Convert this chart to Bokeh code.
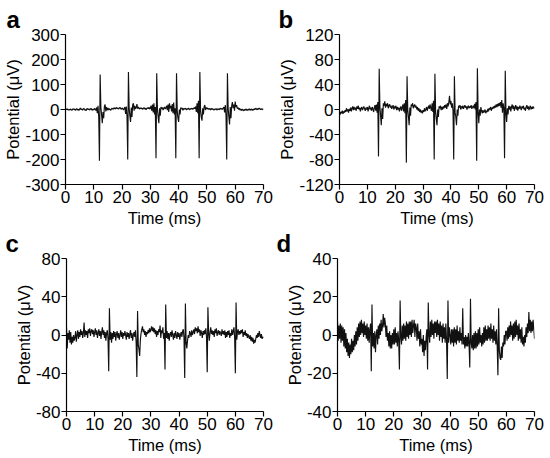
import numpy as np
from bokeh.plotting import figure
from bokeh.layouts import column, row
from bokeh.models import Range1d, FixedTicker
from bokeh.embed import file_html
from bokeh.resources import INLINE

DT = 0.25  # ms between samples

trace_a = [
    2, -1, 3, 0,   -2, 1, -3, 2,   0, -4, 1, 3,   -1, 2, -3, 0,   4, -2, 1, -4,
    2, 6, -1, 3,   -3, 1, 5, -2,   0, -5, 2, 4,   -1, 3, -2, 1,   5, 0, -3, 2,
    -2, 4, 1, -4,  8, -15, 15, -30,  -205, 140, 10, -20,  -55, -10, -35, 12,  20, -8, 10, -3,
    6, -2, 3, 0,   -3, 2, 5, 1,   4, 7, 2, 5,   8, 3, 6, 2,   5, 9, 4, 1,
    6, 3, -2, 4,   10, -18, 12, -28,  -200, 150, 5, -25,  -50, 8, -30, 18,  25, -5, 15, 2,
    8, 22, 3, 10,  5, 2, 7, 3,   6, 1, 4, 8,   2, 5, -1, 4,   7, 3, 9, 2,
    5, 15, -5, 20,  -12, 25, -20, 10,  -195, 145, 0, -30,  -55, 5, -25, 10,  3, 8, -2, 5,
    10, 2, 6, 15,  -3, 20, -10, 25,  5, 15, -8, 22,  -15, 28, -20, 5,  -195, 145, -5, -35,
    -50, 0, -20, 8,  2, 6, -3, 4,   1, 5, 3, -2,   4, 0, 6, 2,   -1, 3, 5, 1,
    4, 2, 8, 3,   12, -10, 25, -15,  35, -195, 150, -5,  -30, -45, 5, -20,  10, 18, -2, 8,
    3, 6, 0, 4,   2, -2, 5, 0,   3, 1, -3, 2,   0, 4, -2, 1,   3, -1, 2, 5,
    1, 4, 0, 6,   10, -12, 18, -25,  -200, 145, 5, -30,  -60, 10, -35, 15,  30, 5, 20, -5,
    32, 10, 18, 3,  8, 0, 5, -3,   2, -4, 1, -2,   -5, 0, -3, 2,   -1, -4, 1, -2,
    3, -3, 0, 2,   -4, 1, -2, 3,   0, 5, 2, -1,   4, 1, 6, 2,   0, 3, -1, 2,
    1,
]

trace_b = [
    -3, -8, -4, -6,  -2, -7, -3, -5,  -1, -4, 2, -3,  0, -5, 1, -2,  3, -3, 2, 5,
    -1, 4, 0, 3,   -2, 5, 1, 6,   0, 3, -3, 2,   4, -1, 2, 5,   1, -2, 3, 0,
    4, -3, 2, 6,   0, 3, -2, 4,   1, -4, 3, 7,   -2, 8, -5, 12,  -75, 65, 5, -10,
    -25, 2, -15, 10,  6, 13, 3, 9,  5, 10, 2, 7,  8, 3, 6, 1,   4, 7, 0, 5,
    2, 6, -1, 4,   0, 3, -3, 2,   5, -2, 3, 8,   -3, 10, -6, 15,  -85, 53, 0, -12,
    -25, 3, -10, 8,  5, 10, 2, 6,  8, 3, 6, 0,   4, -2, 2, -4,   0, -5, -2, -6,
    -1, -4, 2, -3,  0, 4, -2, 3,  6, 1, 8, 3,   -2, 10, -4, 14,  -80, 57, -3, -15,
    -25, 0, -12, 5,  2, 6, -1, 4,  0, 5, 2, 7,   3, 8, 1, 10,   5, 12, 22, 8,
    14, 3, 10, -2,  -80, 53, -5, -12,  -25, 0, -10, 6,  3, 7, 0, 5,  2, 6, 1, 4,
    7, 3, 5, 0,    4, 6, 2, 5,   3, 7, 1, 4,   6, 2, 9, 0,   12, -82, 66, -3,
    -22, 0, -10, 4,  -2, -6, -1, -5,  -3, 0, -6, -2,  -4, 1, -3, 2,  0, 4, -2, 3,
    1, 5, 2, 6,    3, 8, 4, 9,   5, 10, 6, 12,  3, 15, -5, 10,  2, -78, 62, -5,
    -20, 2, -8, 6,  0, 5, -3, 4,  8, 1, 6, -2,   3, 7, 0, 5,   -2, 4, 1, 6,
    3, -1, 5, 2,   6, 0, 3, -2,   4, 7, 1, 5,   -1, 3, 6, 0,   4, 1, 5, 2,
    3,
]

trace_c = [
    8, -14, 2, -5,  5, -8, 3, -10,  -2, -8, 0, -6,  -3, 4, -7, 0,  5, -4, 3, -2,
    6, 0, 4, -3,   2, 13, -2, 5,  0, 4, -3, 6,   2, 7, -1, 4,   6, 1, 5, -2,
    3, 7, 0, 5,   -3, 2, 6, -1,  4, -4, 3, 8,   0, 5, -3, 3,   -6, 2, 5, -4,
    -38, 28, -5, 3,  -8, 2, -4, 4,  -2, 3, -6, 1,  4, -3, 2, -5,  0, 5, -2, 3,
    -4, 2, -1, 4,  0, -5, 3, -2,  2, -4, 1, 5,   -3, 2, -6, 0,  3, -2, 5, -8,
    -44, 25, -10, -15,  -22, -5, 2, 6,  9, 3, 6, 0,  4, -2, 3, 1,  5, 2, 7, 3,
    6, 9, 4, 8,    3, 7, 1, 5,   -2, 4, 0, 6,   3, 10, -3, 5,  2, 8, -4, 2,
    -36, 32, -3, 4,  -4, 2, -6, 1,  3, -2, 5, 0,  -5, 2, -3, 4,  0, -4, 3, -2,
    2, -5, 0, 3,   -2, 4, 6, -3,  -45, 33, -8, -14,  -6, 0, -3, 4,  2, -2, 5, 0,
    3, 6, 1, 8,    4, 7, 2, 9,   3, 6, -1, 5,   2, -3, 4, 0,   5, 1, 7, -2,
    -39, 29, 2, -6,  3, 8, 1, 5,  0, 4, -2, 6,   2, 7, -1, 3,   5, 0, 4, 2,
    -1, 6, 1, 4,   0, 5, -3, 3,   -2, 4, 0, 5,  -3, 2, -1, 6,   0, 4, 8, -3,
    -40, 34, -5, 3,  6, 0, 4, 1,  5, 2, 6, -2,   3, 0, 5, -1,   2, -3, 1, -2,
    -4, 0, -6, -2,  -7, -3, -9, -5,  -8, -4, 0, -3,  2, -2, 4, 0,  -3, 1, -4, -2,
    -3,
]

trace_d = [
    7, -3, 5, -2,   6, -4, 5, -3,   4, -6, 3, -7,   1, -9, -2, -11,  -4, -12, -5, -10,
    -2, -9, -3, -8,  0, -6, 2, -5,   4, -3, 6, -1,   7, 0, 8, 1,    6, -1, 7, 0,
    5, -2, 6, -3,   4, -4, 3, 6,    -19, 16, -6, 1,  -7, 2, -9, 0,  3, -5, 5, -2,
    6, 0, 8, 2,     5, 11, 4, 9,    6, -1, 5, -3,   1, -6, 2, -7,   0, -7, 1, -5,
    3, -5, 4, -4,   1, -6, 2, -3,   -18, 18, -1, -5,  5, -3, 6, -2,  5, -3, 7, -1,
    6, -2, 7, 0,    7, -1, 8, 1,    5, 8, -1, 6,    4, -3, 6, -2,   2, -6, 3, -5,
    -2, -9, 0, -11,  -3, -8, -1, 3,  -18, 17, 0, -4,  7, -1, 8, 0,  6, -2, 7, 1,
    7, -1, 8, 0,    6, -3, 7, -1,   5, -4, 6, -2,   4, -4, 6, -3,   -23, 18, -4, 4,
    0, -5, 3, -4,   3, -6, 4, -4,   3, -5, 5, -3,   2, -4, 4, -3,   1, -5, 14, -5,
    -1, -7, 0, -6,  -1, -6, 1, -5,  -17, 19, -4, -7,  0, -8, 1, -7,  2, -7, 1, -6,
    3, -5, 4, -4,   0, -6, 1, -5,   4, -4, 5, -3,   3, -3, 5, -2,   4, -3, 6, -2,
    3, -4, 5, -3,   2, -5, 3, -6,   -21, 14, -8, -12,  -13, -6, -12, -4,  -6, 0, -5, 2,
    2, -3, 4, -2,   5, -1, 7, 0,    5, -3, 6, -2,   7, -1, 8, 0,    5, -3, 6, -2,
    3, -4, 4, -5,   -1, -6, 0, -4,  4, -1, 6, 1,    12, 2, 8, 1,    7, 2, 8, 3,
    -2,
]

x_ticks = [0, 10, 20, 30, 40, 50, 60, 70]
y_ticks_a = [-300, -200, -100, 0, 100, 200, 300]
y_ticks_b = [-120, -80, -40, 0, 40, 80, 120]
y_ticks_c = [-80, -40, 0, 40, 80]
y_ticks_d = [-40, -20, 0, 20, 40]
letters = ["a", "b", "c", "d"]

FONT = "Liberation Sans"


def make_panel(trace, yticks, letter, width, height, bl, br, bt, bb, letter_offset):
    t = np.arange(len(trace)) * DT
    p = figure(width=width, height=height, output_backend="svg", toolbar_location=None,
               x_range=Range1d(0, 70), y_range=Range1d(yticks[0], yticks[-1]),
               min_border_left=bl, min_border_right=br, min_border_top=bt, min_border_bottom=bb)
    p.outline_line_color = None
    p.grid.visible = False
    p.line(t, trace, line_color="#111111", line_width=1.15)

    p.xaxis.ticker = FixedTicker(ticks=x_ticks)
    p.yaxis.ticker = FixedTicker(ticks=yticks)
    p.yaxis.major_label_overrides = {v: str(v) for v in yticks}
    p.xaxis.major_label_overrides = {v: str(v) for v in x_ticks}
    p.xaxis.axis_label = "Time (ms)"
    p.yaxis.axis_label = "Potential (μV)"
    for ax in (p.xaxis, p.yaxis):
        ax.axis_line_color = "black"
        ax.axis_line_width = 1.2
        ax.major_tick_line_color = "black"
        ax.major_tick_line_width = 1.2
        ax.major_tick_out = 5
        ax.major_tick_in = 0
        ax.minor_tick_line_color = None
        ax.major_label_text_font = FONT
        ax.major_label_text_font_size = "17px"
        ax.major_label_text_color = "black"
        ax.axis_label_text_font = FONT
        ax.axis_label_text_font_size = "16.5px"
        ax.axis_label_text_font_style = "normal"
        ax.axis_label_text_color = "black"
    p.xaxis.major_label_standoff = 1
    p.yaxis.major_label_standoff = 1
    p.xaxis.axis_label_standoff = 3
    p.yaxis.axis_label_standoff = 0

    p.title.text = letter
    p.title.align = "left"
    p.title.vertical_align = "top"
    p.title.standoff = 0
    p.title.offset = letter_offset
    p.title.text_font = FONT
    p.title.text_font_style = "bold"
    p.title.text_font_size = "24px"
    p.title.text_line_height = 0.75
    p.title.text_color = "black"
    return p


pa = make_panel(trace_a, y_ticks_a, letters[0], 275, 229, 65, 12, 34, 42, -59)
pb = make_panel(trace_b, y_ticks_b, letters[1], 275, 229, 62, 16, 34, 42, -61)
pc = make_panel(trace_c, y_ticks_c, letters[2], 275, 229, 66, 12, 28, 47, -61)
pd = make_panel(trace_d, y_ticks_d, letters[3], 275, 229, 62, 16, 28, 47, -61)

layout = column(row(pa, pb), row(pc, pd))
open("out.html", "w").write(file_html(layout, INLINE))
